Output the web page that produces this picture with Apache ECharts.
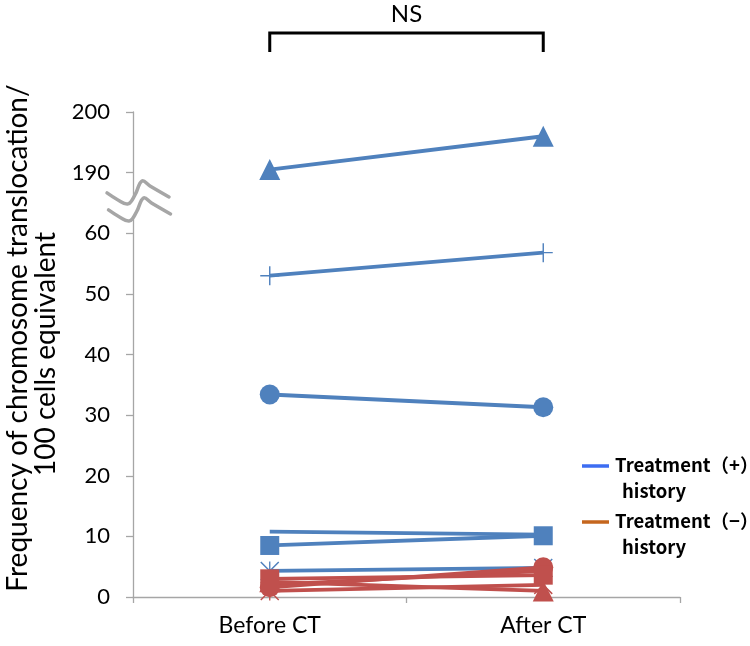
<!DOCTYPE html>
<html>
<head>
<meta charset="utf-8">
<script src="https://cdn.jsdelivr.net/npm/echarts@6/dist/echarts.min.js"></script>
<style>
html,body{margin:0;padding:0;background:#fff;}
#chart{width:750px;height:646px;}
</style>
</head>
<body>
<div id="chart"></div>
<script>
// ---- data ----
const categories = ['Before CT', 'After CT'];
const tickLabels = ['0', '10', '20', '30', '40', '50', '60', '190', '200'];
// Treatment (+) history (blue)
const bTriangle = [190.5, 196];
const bPlus = [53, 56.8];
const bCircle = [33.4, 31.3];
const bLine = [10.8, 10.3];
const bSquare = [8.5, 10.1];
const bStar = [4.3, 4.8];
// Treatment (-) history (red)
const rSquare = [3.0, 3.6];
const rCircle = [1.6, 4.9];
const rTriangle = [2.5, 1.0];
const rStar = [1.0, 2.0];
const rLine = [2.0, 4.3];

// broken axis: 60..190 collapsed into one tick interval
const BREAK_LOW = 60, BREAK_HIGH = 190, BREAK_STEP = 10;
function toAxis(v) { return v <= BREAK_LOW ? v : v - (BREAK_HIGH - BREAK_LOW - BREAK_STEP); }

const BLUE = '#4F81BD', RED = '#C0504D';
const plusPath = 'path://M9.25,0h1.5v9.25h9.25v1.5h-9.25v9.25h-1.5v-9.25h-9.25v-1.5h9.25z';
const starPath = 'path://M0,1.1L1.1,0L20,18.9L18.9,20Z M18.9,0L20,1.1L1.1,20L0,18.9Z M9.3,0h1.4v20h-1.4Z';

function mk(name, data, color, symbol, size, z) {
  return {
    name: name, type: 'line', data: data.map(toAxis),
    symbol: symbol, symbolSize: size, showSymbol: symbol !== 'none',
    lineStyle: { color: color, width: 3.8 },
    itemStyle: { color: color, opacity: 1 },
    z: z, animation: false, silent: true
  };
}

const chart = echarts.init(document.getElementById('chart'), null, { renderer: 'canvas' });
const option = {
  backgroundColor: '#fff',
  animation: false,
  grid: { left: 133, right: 70, top: 112, bottom: 49, containLabel: false },
  xAxis: {
    type: 'category', data: categories, boundaryGap: true,
    axisLine: { lineStyle: { color: '#A6A6A6', width: 1.3 } },
    axisTick: { show: true, length: 6, interval: 0, lineStyle: { color: '#A6A6A6', width: 1.3 } },
    axisLabel: { color: '#000', fontSize: 23, fontFamily: 'Lato', margin: 17 }
  },
  yAxis: {
    type: 'value', min: 0, max: 80, interval: 10,
    axisLine: { show: true, lineStyle: { color: '#A6A6A6', width: 1.3 } },
    axisTick: { show: true, length: 7, lineStyle: { color: '#A6A6A6', width: 1.3 } },
    splitLine: { show: false },
    axisLabel: {
      color: '#000', fontSize: 22, fontFamily: 'Lato', margin: 23,
      formatter: function (v) { return tickLabels[Math.round(v / 10)]; }
    }
  },
  series: [
    mk('B-triangle', bTriangle, BLUE, 'triangle', 21, 2),
    mk('B-plus', bPlus, BLUE, plusPath, 19, 2),
    mk('B-circle', bCircle, BLUE, 'circle', 20, 2),
    mk('B-line', bLine, BLUE, 'none', 0, 2),
    mk('B-square', bSquare, BLUE, 'rect', 19, 2),
    mk('B-star', bStar, BLUE, starPath, 19, 2),
    mk('R-line', rLine, RED, 'none', 0, 3),
    mk('R-star', rStar, RED, starPath, 19, 3),
    mk('R-triangle', rTriangle, RED, 'triangle', 21, 3),
    mk('R-circle', rCircle, RED, 'circle', 20, 3),
    mk('R-square', rSquare, RED, 'rect', 19, 3)
  ]
};
chart.setOption(option);

// ---- annotations: NS bracket, axis break, legend, axis title ----
const pB = chart.convertToPixel({ xAxisIndex: 0 }, categories[0]);
const pA = chart.convertToPixel({ xAxisIndex: 0 }, categories[1]);
const y190 = chart.convertToPixel({ yAxisIndex: 0 }, toAxis(190));
const y60 = chart.convertToPixel({ yAxisIndex: 0 }, toAxis(60));
const cy = (y190 + y60) / 2;

const c1 = [[107, -10], [118, -3], [128, 1], [135, -8], [142, -22], [150, -17], [169, -6]];
const c2 = c1.map(p => [p[0] + 1.5, p[1] + 17]);
const abs = arr => arr.map(p => [p[0], p[1] + cy]);
const fillPts = abs(c1).concat(abs(c2).reverse());
const legendFont = { fontSize: 18.5, fontWeight: 'bold', fontFamily: 'Noto Sans CJK JP', fill: '#000', verticalAlign: 'middle' };

chart.setOption({
  graphic: [
    { type: 'polyline', shape: { points: [[pB, 52], [pB, 33], [pA, 33], [pA, 52]] },
      style: { stroke: '#000', lineWidth: 3, fill: null }, z: 10 },
    { type: 'text', x: (pB + pA) / 2, y: 14,
      style: { text: 'NS', fontSize: 24, fontFamily: 'Lato', fill: '#000', align: 'center', verticalAlign: 'middle' }, z: 10 },
    { type: 'polygon', shape: { points: fillPts, smooth: 0 }, style: { fill: '#fff', stroke: null }, z: 20 },
    { type: 'polyline', shape: { points: abs(c1), smooth: 0.4 }, style: { stroke: '#A6A6A6', lineWidth: 3.5, fill: null, lineCap: 'round' }, z: 21 },
    { type: 'polyline', shape: { points: abs(c2), smooth: 0.4 }, style: { stroke: '#A6A6A6', lineWidth: 3.5, fill: null, lineCap: 'round' }, z: 21 },
    { type: 'text', x: 18, y: 338, rotation: Math.PI / 2,
      style: { text: 'Frequency of chromosome translocation/', fontSize: 28, fontFamily: 'Lato', fill: '#000', align: 'center', verticalAlign: 'middle' }, z: 10 },
    { type: 'text', x: 46, y: 354, rotation: Math.PI / 2,
      style: { text: '100 cells equivalent', fontSize: 28, fontFamily: 'Lato', fill: '#000', align: 'center', verticalAlign: 'middle' }, z: 10 },
    { type: 'line', shape: { x1: 582, y1: 466, x2: 609, y2: 466 }, style: { stroke: '#3D6DF2', lineWidth: 3.5 }, z: 10 },
    { type: 'text', x: 615, y: 465, style: Object.assign({ text: 'Treatment（+）' }, legendFont), z: 10 },
    { type: 'text', x: 622, y: 491, style: Object.assign({ text: 'history' }, legendFont), z: 10 },
    { type: 'line', shape: { x1: 582, y1: 522, x2: 609, y2: 522 }, style: { stroke: '#C5661E', lineWidth: 3.5 }, z: 10 },
    { type: 'text', x: 615, y: 521, style: Object.assign({ text: 'Treatment（−）' }, legendFont), z: 10 },
    { type: 'text', x: 622, y: 547, style: Object.assign({ text: 'history' }, legendFont), z: 10 }
  ]
});
</script>
</body>
</html>
